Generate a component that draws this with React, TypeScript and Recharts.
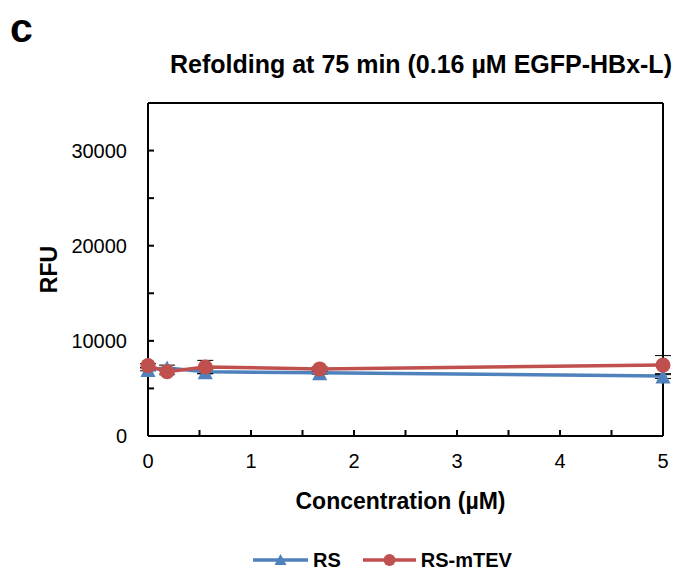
import React from "react";
import {
  LineChart,
  Line,
  XAxis,
  YAxis,
  Legend,
  ErrorBar,
  ReferenceLine,
} from "recharts";

// values
const concentrations = [0, 0.185, 0.556, 1.667, 5];
const rsValues = [7000, 7150, 6750, 6650, 6300];
const rsErrors = [150, 300, 200, 150, 250];
const mtevValues = [7400, 6750, 7250, 7050, 7450];
const mtevErrors = [200, 250, 700, 200, 1000];

const xTicks = [0, 0.5, 1, 1.5, 2, 2.5, 3, 3.5, 4, 4.5, 5];
const yTicks = [0, 5000, 10000, 15000, 20000, 25000, 30000, 35000];

const BLUE = "#4F81BD";
const RED = "#C0504D";
const FONT = "'Liberation Sans', Arial, sans-serif";

const data = concentrations.map((c, i) => ({
  conc: c,
  rs: rsValues[i],
  rsErr: rsErrors[i],
  mtev: mtevValues[i],
  mtevErr: mtevErrors[i],
}));

const TriangleDot = (props: any) => {
  const { cx, cy, index } = props;
  if (cx == null || cy == null) return null;
  const s = 15;
  return (
    <polygon
      key={`tri-${index}`}
      points={`${cx},${cy - s / 2} ${cx - s / 2},${cy + s / 2} ${cx + s / 2},${cy + s / 2}`}
      fill={BLUE}
    />
  );
};

const CircleDot = (props: any) => {
  const { cx, cy, index } = props;
  if (cx == null || cy == null) return null;
  return <circle key={`cir-${index}`} cx={cx} cy={cy} r={7.5} fill={RED} />;
};

const renderLegend = () => (
  <div
    style={{
      height: 22,
      display: "flex",
      alignItems: "center",
      paddingLeft: 253,
      fontFamily: FONT,
      fontWeight: "bold",
      fontSize: 20,
      color: "#000",
    }}
  >
    <svg width={55} height={22}>
      <line x1={0} y1={11} x2={55} y2={11} stroke={BLUE} strokeWidth={3.5} />
      <polygon points="27.5,5 21.5,16 33.5,16" fill={BLUE} />
    </svg>
    <span style={{ marginLeft: 5 }}>RS</span>
    <svg width={53} height={22} style={{ marginLeft: 22 }}>
      <line x1={0} y1={11} x2={53} y2={11} stroke={RED} strokeWidth={3.5} />
      <circle cx={26.5} cy={11} r={6} fill={RED} />
    </svg>
    <span style={{ marginLeft: 5 }}>RS-mTEV</span>
  </div>
);

export default function App() {
  return (
    <div
      style={{
        position: "absolute",
        left: 0,
        top: 0,
        width: 678,
        height: 571,
        background: "#fff",
        fontFamily: FONT,
      }}
    >
      <LineChart
        width={678}
        height={571}
        data={data}
        margin={{ top: 103, right: 15, left: 0, bottom: 0 }}
      >
        <XAxis
          dataKey="conc"
          type="number"
          domain={[0, 5]}
          ticks={xTicks}
          tickFormatter={(v: number) => (Number.isInteger(v) ? String(v) : "")}
          height={113}
          stroke="#000"
          strokeWidth={2}
          tickSize={-6}
          tickMargin={24}
          tick={{ fill: "#000", fontSize: 20, fontFamily: FONT }}
          label={{
            content: ({ viewBox }: any) => (
              <text
                x={viewBox.x + viewBox.width / 2 - 5}
                y={viewBox.y + 73}
                textAnchor="middle"
                fontFamily={FONT}
                fontWeight="bold"
                fontSize={23}
                fill="#000"
              >
                Concentration (µM)
              </text>
            ),
          }}
        />
        <YAxis
          type="number"
          domain={[0, 35000]}
          ticks={yTicks}
          tickFormatter={(v: number) => (v % 10000 === 0 ? String(v) : "")}
          width={148}
          stroke="#000"
          strokeWidth={2}
          tickSize={-6}
          tickMargin={27}
          tick={{ fill: "#000", fontSize: 20, fontFamily: FONT }}
          label={{
            content: ({ viewBox }: any) => {
              const x = viewBox.x + 57;
              const y = viewBox.y + viewBox.height / 2;
              return (
                <text
                  x={x}
                  y={y}
                  transform={`rotate(-90, ${x}, ${y})`}
                  textAnchor="middle"
                  fontFamily={FONT}
                  fontWeight="bold"
                  fontSize={23}
                  fill="#000"
                >
                  RFU
                </text>
              );
            },
          }}
        />
        <ReferenceLine y={35000} stroke="#000" strokeWidth={2} />
        <ReferenceLine x={5} stroke="#000" strokeWidth={2} />
        <Legend verticalAlign="bottom" content={renderLegend} />
        <Line
          dataKey="rs"
          name="RS"
          stroke={BLUE}
          strokeWidth={3.5}
          dot={TriangleDot}
          activeDot={false}
          isAnimationActive={false}
        >
          <ErrorBar dataKey="rsErr" direction="y" width={8} stroke="#000" strokeWidth={1} />
        </Line>
        <Line
          dataKey="mtev"
          name="RS-mTEV"
          stroke={RED}
          strokeWidth={3.5}
          dot={CircleDot}
          activeDot={false}
          isAnimationActive={false}
        >
          <ErrorBar dataKey="mtevErr" direction="y" width={8} stroke="#000" strokeWidth={1} />
        </Line>
      </LineChart>
      <svg
        width={678}
        height={120}
        style={{ position: "absolute", left: 0, top: 0, pointerEvents: "none" }}
      >
        <text x={10} y={42} fontFamily={FONT} fontWeight="bold" fontSize={41} fill="#000">
          c
        </text>
        <text
          x={421}
          y={73}
          textAnchor="middle"
          fontFamily={FONT}
          fontWeight="bold"
          fontSize={25}
          fill="#000"
        >
          Refolding at 75 min (0.16 µM EGFP-HBx-L)
        </text>
      </svg>
    </div>
  );
}
